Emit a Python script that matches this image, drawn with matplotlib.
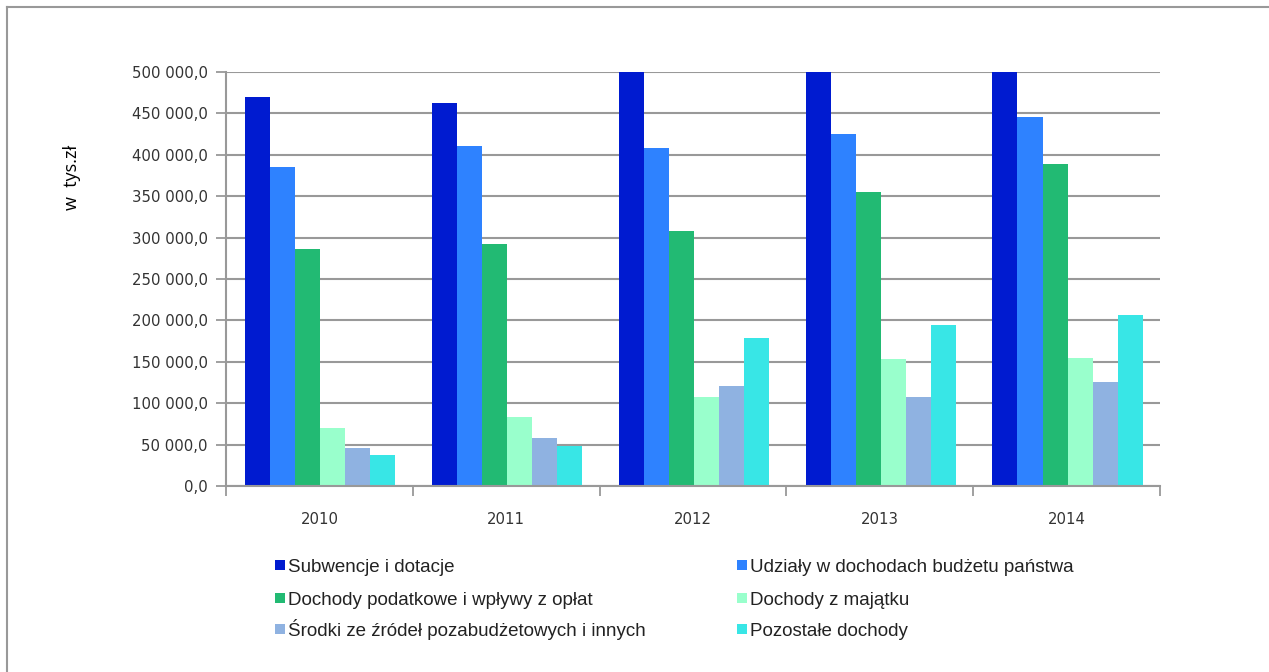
import numpy as np
import matplotlib
matplotlib.use("Agg")
import matplotlib.pyplot as plt
from matplotlib.patches import Rectangle
from matplotlib.lines import Line2D

# ── dane ──────────────────────────────────────────
years = ["2010", "2011", "2012", "2013", "2014"]
series_names = [
    "Subwencje i dotacje",
    "Udziały w dochodach budżetu państwa",
    "Dochody podatkowe i wpływy z opłat",
    "Dochody z majątku",
    "Środki ze źródeł pozabudżetowych i innych",
    "Pozostałe dochody",
]
subwencje = [469800, 462600, 520000, 540000, 560000]
udzialy = [385300, 410600, 408200, 425100, 445700]
podatkowe = [286200, 292300, 308000, 355100, 388900]
majatek = [70000, 83300, 107500, 153400, 154600]
srodki = [45900, 58000, 120800, 107500, 125600]
pozostale = [37400, 48300, 178700, 194400, 206500]
colors = ["#001BD0", "#2E82FF", "#22BA73", "#99FFCC", "#8FB2E1", "#38E6E6"]

series = [subwencje, udzialy, podatkowe, majatek, srodki, pozostale]

W, H = 1269, 672

# ── wykres ────────────────────────────────────────
fig = plt.figure(figsize=(W / 100, H / 100), dpi=100)
ax = fig.add_axes([226 / W, 1 - 486 / H, (1160 - 226) / W, (486 - 72) / H])

x = np.arange(len(years))
bw = 0.134
for i, (vals, c) in enumerate(zip(series, colors)):
    ax.bar(x + (i - 2.5) * bw + 0.005, vals, width=bw, color=c, label=series_names[i], zorder=2)

ax.set_xlim(-0.5, len(years) - 0.5)
ax.set_ylim(0, 500000)
ax.set_yticks(np.arange(0, 500001, 50000))
ax.set_yticklabels([f"{v:,.1f}".replace(",", " ").replace(".", ",") for v in range(0, 500001, 50000)],
                   fontsize=10.7, color="#333333")
ax.set_xticks(x)
ax.set_xticklabels(years, fontsize=10.7, color="#333333")
ax.set_xticks(np.arange(-0.5, len(years)), minor=True)
ax.tick_params(axis="x", which="major", length=0, pad=18.5)
ax.tick_params(axis="x", which="minor", length=7, color="#999999", width=1.3)
ax.tick_params(axis="y", length=7, color="#999999", width=1.3, pad=6)

ax.grid(axis="y", color="#999999", linewidth=1.5, zorder=0)
ax.set_axisbelow(True)
for s in ["top", "right"]:
    ax.spines[s].set_visible(False)
for s in ["left", "bottom"]:
    ax.spines[s].set_color("#999999")
    ax.spines[s].set_linewidth(1.5)

fig.text(72 / W, 1 - 177 / H, "w  tys.zł", rotation=90, ha="center", va="center",
         fontsize=13, family="Open Sans")

# legenda: 2 kolumny, wierszami
col_x = [275, 737]
row_y = [565, 598, 629]
for i, (name, c) in enumerate(zip(series_names, colors)):
    cx = col_x[i % 2]
    cy = row_y[i // 2]
    fig.add_artist(Rectangle((cx / W, 1 - (cy + 5) / H), 10 / W, 10 / H,
                             transform=fig.transFigure, facecolor=c, edgecolor="none"))
    fig.text((cx + 13) / W, 1 - (cy + 7) / H, name, ha="left", va="baseline",
             fontsize=13.5, family="Liberation Sans", color="#222222")

# ramka
fig.add_artist(Line2D([7 / W, 1], [1 - 7 / H, 1 - 7 / H], color="#999999", lw=1.5))
fig.add_artist(Line2D([7 / W, 7 / W], [0, 1 - 7 / H], color="#999999", lw=1.5))

plt.savefig("out.png", dpi=100)
